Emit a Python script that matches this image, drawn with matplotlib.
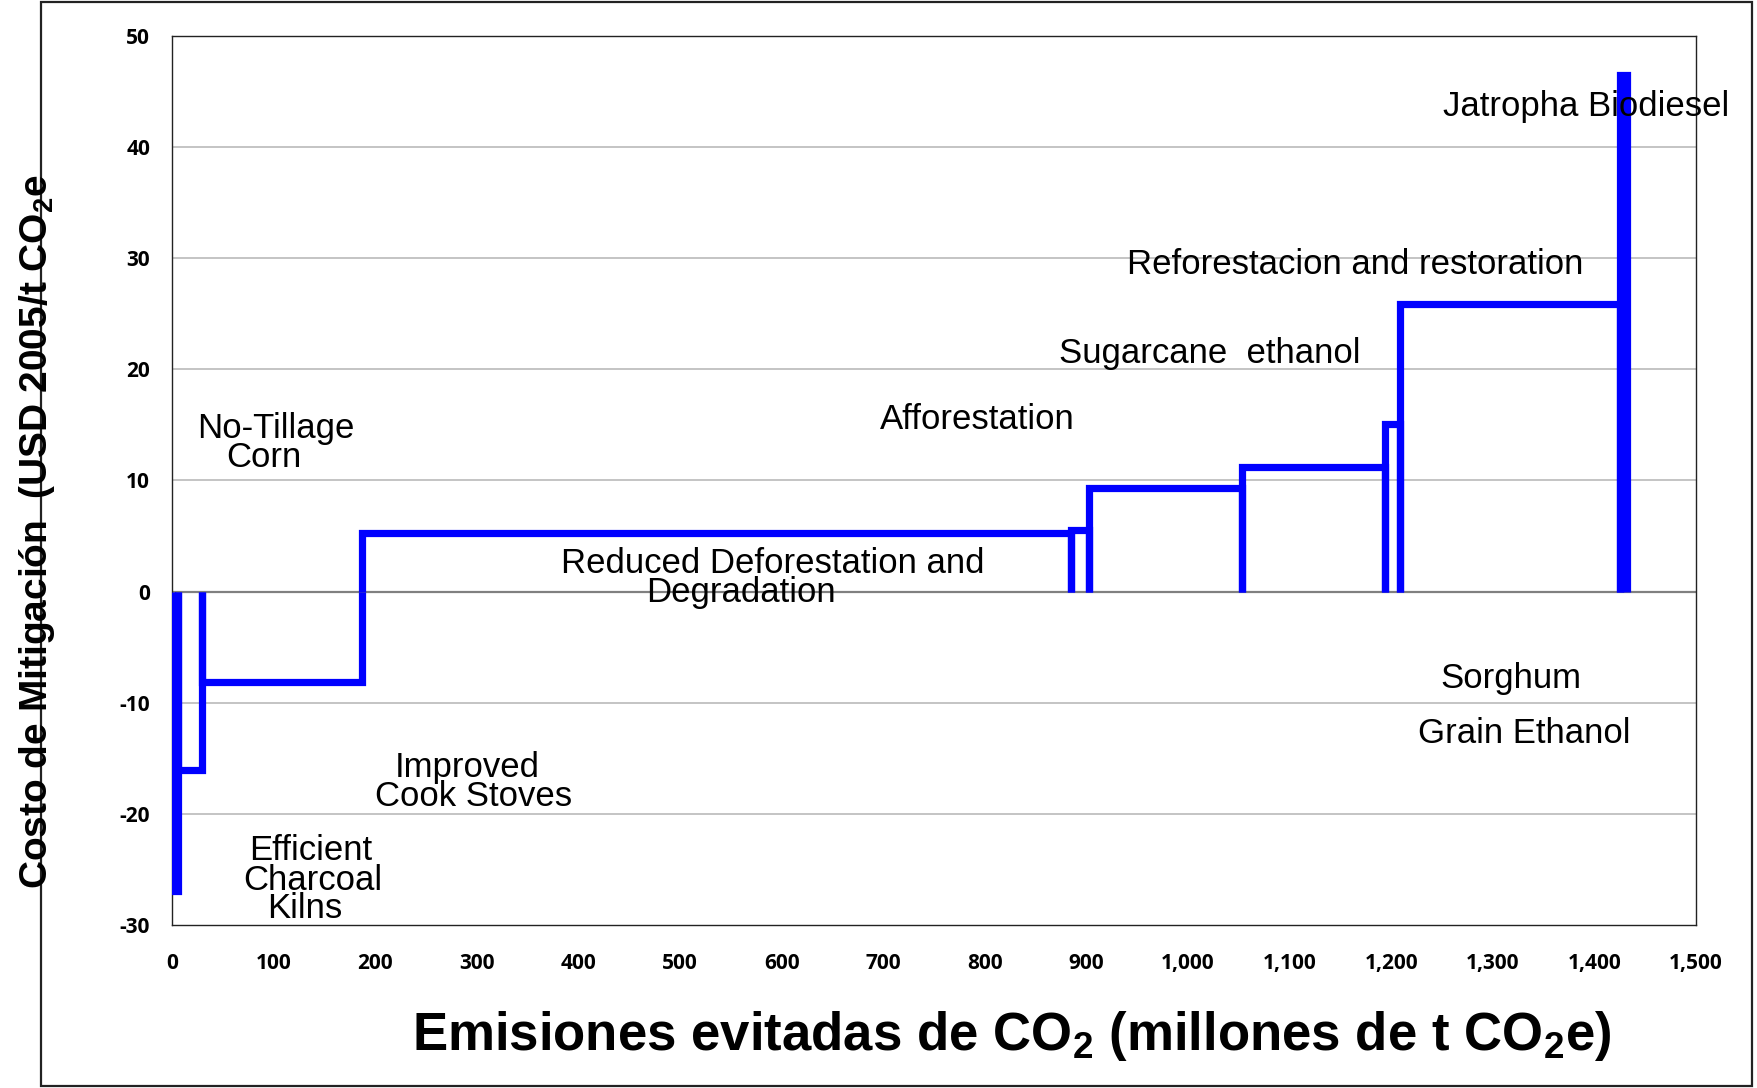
import matplotlib.pyplot as plt
import numpy as np
from matplotlib.patches import Rectangle
from matplotlib.ticker import StrMethodFormatter

plt.rcParams['mathtext.fontset'] = 'custom'
plt.rcParams['mathtext.bf'] = 'Liberation Sans:bold'
plt.rcParams['mathtext.rm'] = 'Liberation Sans'
plt.rcParams['axes.unicode_minus'] = False

# abatement measures, sorted by cost
measures = ['Efficient Charcoal Kilns', 'Improved Cook Stoves', 'No-Tillage Corn',
            'Reduced Deforestation and Degradation', 'Afforestation', 'Sugarcane ethanol',
            'Reforestacion and restoration', 'Sorghum Grain Ethanol', 'Jatropha Biodiesel',
            'Jatropha Biodiesel (2)']
widths = [5.5, 23.7, 157.8, 697.4, 17.6, 150.7, 141.3, 15.0, 216.0, 7.0]   # Mt CO2e
costs = [-26.9, -16.1, -8.1, 5.25, 5.55, 9.35, 11.2, 15.1, 25.9, 46.5]    # USD 2005 / t CO2e

# labels as placed on the chart: text, x, y
label_text = ['Jatropha Biodiesel', 'Reforestacion and restoration', 'Sugarcane  ethanol',
              'Afforestation', 'No-Tillage', 'Corn', 'Reduced Deforestation and',
              'Degradation', 'Sorghum', 'Grain Ethanol', 'Improved', 'Cook Stoves',
              'Efficient', 'Charcoal', 'Kilns']
label_x = [1392, 1165, 1021, 793, 102, 90, 591, 560, 1318, 1331, 290, 297, 136, 138, 130]
label_y = [43.6, 29.4, 21.4, 15.5, 14.7, 12.1, 2.5, -0.1, -7.8, -12.8, -15.8, -18.4,
           -23.3, -26.0, -28.5]

right = np.cumsum(widths)
left = right - np.array(widths)

fig = plt.figure(figsize=(17.58, 10.88), dpi=100)
ax = fig.add_axes([0.0980, 0.1498, 0.8667, 0.8174])

for y in range(-20, 51, 10):
    if y != 0:
        ax.axhline(y, color='#b4b4b4', lw=1.1, zorder=0)
ax.axhline(0, color='#808080', lw=1.6, zorder=1)

for x0, x1, h in zip(left, right, costs):
    ax.plot([x0, x0, x1, x1], [0, h, h, 0], color='#0000ff', lw=5.2,
            solid_joinstyle='miter', solid_capstyle='butt', zorder=3)

for t, x, y in zip(label_text, label_x, label_y):
    ax.text(x, y, t, ha='center', va='center', fontsize=25,
            family='Liberation Sans', zorder=4)

ax.set_xlim(0, 1500)
ax.set_ylim(-30, 50)
ax.set_xticks(np.arange(0, 1501, 100))
ax.set_yticks(np.arange(-30, 51, 10))
ax.xaxis.set_major_formatter(StrMethodFormatter('{x:,.0f}'))
ax.tick_params(length=0, labelsize=15)
ax.tick_params(axis='x', pad=20)
ax.tick_params(axis='y', pad=16)
for lab in ax.get_xticklabels() + ax.get_yticklabels():
    lab.set_fontfamily('Open Sans')
    lab.set_fontweight('bold')
for s in ax.spines.values():
    s.set_linewidth(1.0)
    s.set_color('#222222')

fig.text(0.5756, 0.0349, r'Emisiones evitadas de CO$_\mathbf{2}$ (millones de t CO$_\mathbf{2}$e)',
         ha='center', va='baseline', fontsize=38, fontweight='bold',
         family='Liberation Sans')
fig.text(0.021, 0.511, r'Costo de Mitigación  (USD 2005/t CO$_\mathbf{2}$e',
         ha='center', va='center', rotation=90, fontsize=28, fontweight='bold',
         family='Liberation Sans')

fig.add_artist(Rectangle((41 / 1758, 1 - 1086 / 1088), (1752 - 41) / 1758, (1086 - 2) / 1088,
                         transform=fig.transFigure, fill=False, edgecolor='#222222', lw=1.6))

fig.savefig('out.png', dpi=100)
